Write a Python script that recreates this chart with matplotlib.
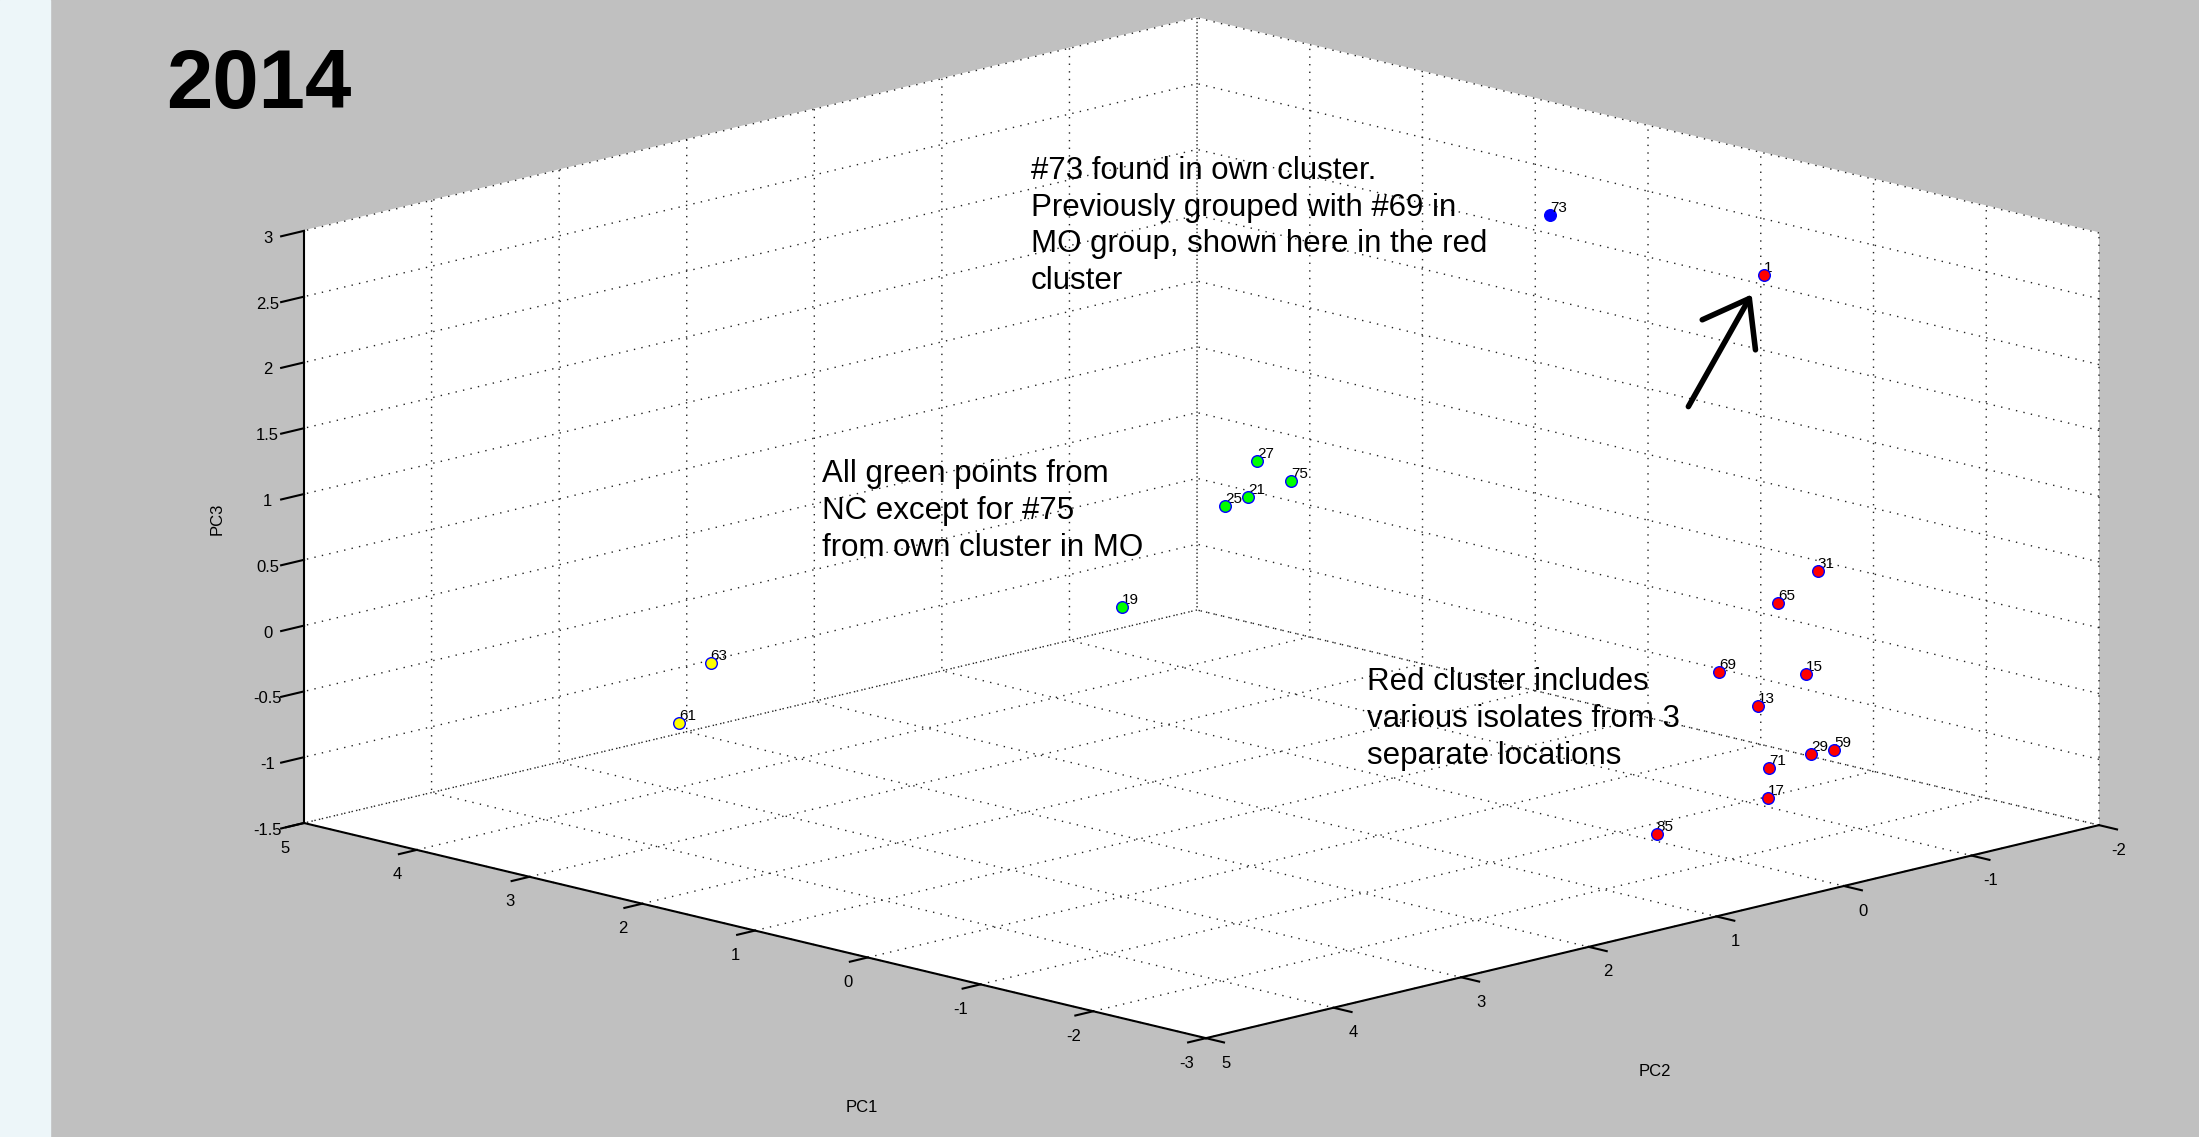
import matplotlib.pyplot as plt
from matplotlib.patches import Rectangle
from matplotlib.ticker import FormatStrFormatter
from mpl_toolkits.mplot3d import proj3d

plt.rcParams['font.family'] = ['Liberation Sans', 'DejaVu Sans']
plt.rcParams['axes.unicode_minus'] = False
plt.rcParams['grid.color'] = '#222222'
plt.rcParams['grid.linestyle'] = (0, (1, 4.5))
plt.rcParams['grid.linewidth'] = 1.0

# isolate numbers and their scores on the first three principal components
isolates = ['73', '1', '31', '65', '69', '15', '13', '29', '59', '71', '17', '85',
            '27', '75', '21', '25', '19', '63', '61']
pc1 = [1.0, -1.0, -1.5, -1.5, -1.5, -1.5, -1.5, -1.5, -1.5, -1.5, -1.5, -1.5,
       0.0, 0.0, 0.0, 0.0, 0.0, 3.0, 3.0]
pc2 = [-1.23, -1.14, -1.12, -0.81, -0.35, -1.03, -0.65, -1.07, -1.25, -0.74, -0.73, 0.14,
       1.95, 1.68, 2.02, 2.20, 3.01, 3.58, 3.83]
pc3 = [2.50, 2.47, 0.33, 0.16, -0.26, -0.43, -0.59, -1.05, -1.06, -1.08, -1.31, -1.38,
       1.57, 1.35, 1.31, 1.28, 0.70, -0.20, -0.60]
cluster = ['blue', 'red', 'red', 'red', 'red', 'red', 'red', 'red', 'red', 'red', 'red', 'red',
           'green', 'green', 'green', 'green', 'green', 'yellow', 'yellow']
colors = {'blue': '#0000FF', 'red': '#FF0000', 'green': '#00FF00', 'yellow': '#FFFF00'}

xticks = [-3, -2, -1, 0, 1, 2, 3, 4, 5]
yticks = [-2, -1, 0, 1, 2, 3, 4, 5]
zticks = [-1.5, -1, -0.5, 0, 0.5, 1, 1.5, 2, 2.5, 3]

notes = [
    ('#73 found in own cluster.\nPreviously grouped with #69 in\nMO group, shown here in the red\ncluster', 1031, 226),
    ('All green points from\nNC except for #75\nfrom own cluster in MO', 822, 511),
    ('Red cluster includes\nvarious isolates from 3\nseparate locations', 1367, 719),
]

W, H = 2199, 1137
fig = plt.figure(figsize=(W / 100, H / 100), dpi=100, facecolor='#C0C0C0')
fig.add_artist(Rectangle((0, 0), 50 / W, 1, transform=fig.transFigure, color='#EDF6F9', zorder=0))

ax = fig.add_axes([0.1, 0.05, 0.8, 0.9], projection='3d', proj_type='ortho')
ax.set_facecolor('none')
ax.view_init(elev=13.8, azim=135)
ax.set_box_aspect((910, 901, 435))
ax.set_xlim(-3, 5)
ax.set_ylim(-2, 5)
ax.set_zlim(-1.5, 3)
ax.set_xticks(xticks)
ax.set_yticks(yticks)
ax.set_zticks(zticks)
ax.zaxis.set_major_formatter(FormatStrFormatter('%g'))
ax.zaxis.set_ticks_position('upper')
ax.tick_params(labelsize=12, colors='k', pad=7)
ax.tick_params(axis='z', pad=6)

# ticks sticking out of the box, as in the MATLAB figure
tick_len = {ax.xaxis: 0.25, ax.yaxis: 0.25, ax.zaxis: 0.32}
for axis in (ax.xaxis, ax.yaxis, ax.zaxis):
    axis.set_pane_color((1, 1, 1, 1))
    axis.pane.set_edgecolor('white')
    axis.line.set_color('k')
    axis.line.set_linewidth(1.5)
    axis._axinfo['tick']['inward_factor'] = tick_len[axis]
    axis._axinfo['tick']['outward_factor'] = 0.0
    axis._axinfo['tick']['linewidth'] = {True: 1.5, False: 0.5}

for c in colors:
    idx = [i for i, g in enumerate(cluster) if g == c]
    ax.scatter([pc1[i] for i in idx], [pc2[i] for i in idx], [pc3[i] for i in idx],
               s=70, c=colors[c], edgecolors='#0000FF', linewidths=1.0, depthshade=False)

# fit the projected box onto the frame used in the original figure
fig.canvas.draw()
def to_px(x, y, z):
    xs, ys, _ = proj3d.proj_transform(x, y, z, ax.get_proj())
    return ax.transData.transform((xs, ys))

left = to_px(5, 5, -1.5)
right = to_px(-3, -2, -1.5)
bb = ax.get_window_extent()
cx, cy = (bb.x0 + bb.x1) / 2, (bb.y0 + bb.y1) / 2
side = bb.width
k = (2099 - 304) / (right[0] - left[0])
tx, ty = 304, H - 823
ncx = tx - k * (left[0] - cx)
ncy = ty - k * (left[1] - cy)
ns = side * k
ax.set_position([(ncx - ns / 2) / W, (ncy - ns / 2) / H, ns / W, ns / H])

# isolate numbers, placed at the projected point positions
xs, ys, _ = proj3d.proj_transform(pc1, pc2, pc3, ax.get_proj())
for i, name in enumerate(isolates):
    ax.text2D(xs[i], ys[i], name, transform=ax.transData, fontsize=11,
              ha='left', va='bottom')

fig.text(166 / W, 1 - 108 / H, '2014', fontsize=60, fontweight='bold', ha='left', va='baseline')
for txt, x, y in notes:
    fig.text(x / W, 1 - y / H, txt, fontsize=22.5, ha='left', va='center', linespacing=1.3)

fig.text(862 / W, 1 - 1108 / H, 'PC1', fontsize=12, ha='center', va='center')
fig.text(1655 / W, 1 - 1071 / H, 'PC2', fontsize=12, ha='center', va='center')
fig.text(217 / W, 1 - 519 / H, 'PC3', fontsize=12, ha='center', va='center', rotation=90)

fig.add_artist(plt.Annotation('', xy=(1753 / W, 1 - 292 / H), xytext=(1687 / W, 1 - 409 / H),
                              xycoords='figure fraction', textcoords='figure fraction',
                              arrowprops=dict(arrowstyle='->,head_length=1.5,head_width=1.1',
                                              lw=4, color='k', mutation_scale=20)))

fig.savefig('out.png', dpi=100, facecolor=fig.get_facecolor())
